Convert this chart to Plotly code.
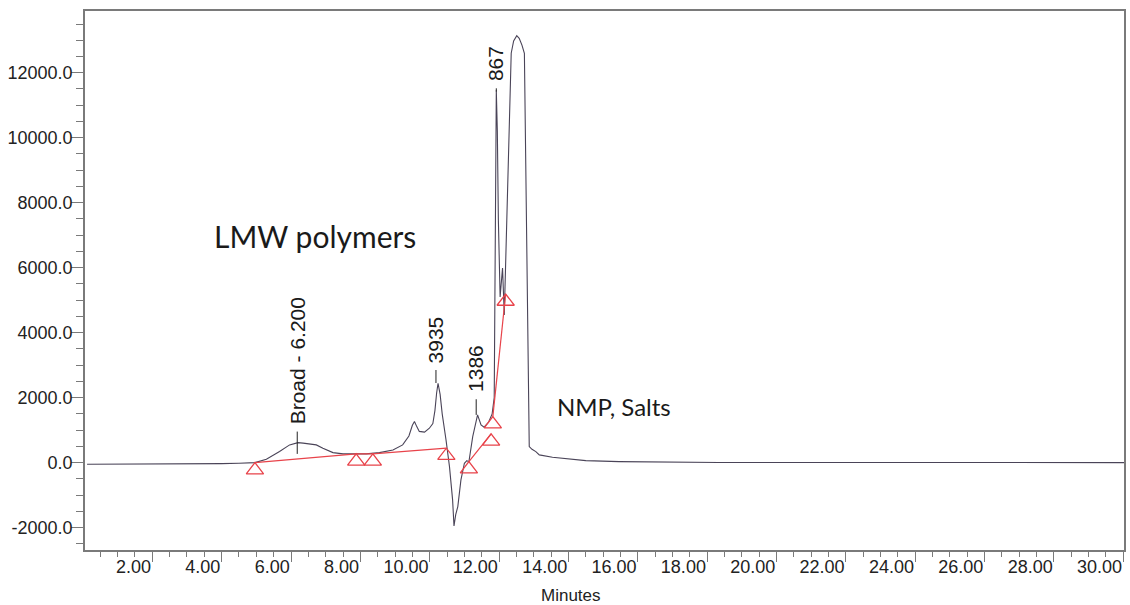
import plotly.graph_objects as go

# ---------------- data ----------------
time_min = [0.12, 1.0, 2.0, 3.0, 4.0, 4.5, 4.96, 5.29, 5.5, 5.67, 5.96, 6.2, 6.35, 6.49, 6.73,
            6.92, 7.21, 7.5, 7.88, 8.17, 8.55, 8.94, 9.22, 9.4, 9.5, 9.56, 9.63, 9.7, 9.85,
            9.99, 10.09, 10.15, 10.2, 10.24, 10.3, 10.36, 10.47, 10.57, 10.66, 10.7, 10.75,
            10.81, 10.9, 11.0, 11.07, 11.13, 11.24, 11.32, 11.38, 11.48, 11.57, 11.7, 11.8,
            11.86, 11.89, 11.92, 11.95, 11.98, 12.03, 12.07, 12.1, 12.15, 12.2, 12.24, 12.35,
            12.42, 12.51, 12.58, 12.66, 12.73, 12.79, 12.84, 12.87, 12.95, 13.06, 13.16,
            13.54, 14.5, 15.46, 18.34, 22.0, 26.0, 30.02]
signal = [-50, -50, -45, -35, -30, -20, 0, 105, 230, 340, 545, 615, 600, 575, 545,
          443, 308, 268, 262, 268, 308, 390, 545, 820, 1150, 1262, 1100, 960, 940,
          1058, 1200, 1600, 2150, 2443, 2100, 1500, 698, -123, -1148, -1950, -1600,
          -1354, -532, -20, 60, 20, 800, 1212, 1468, 1160, 1090, 1250, 1500,
          2000, 7460, 11460, 10200, 7460, 5100, 5500, 5990, 4540, 6500, 7460, 12600,
          12980, 13140, 13060, 12850, 12600, 7460, 2500, 492, 410, 338, 237,
          166, 62, 31, 5, 0, 0, 0]

baseline_t = [4.96, 7.88, 8.36, 10.48, 11.13, 11.77, 11.82, 12.19]
baseline_y = [0, 268, 268, 443, 30, 883, 1415, 5190]
baseline_groups = [[0, 1, 2, 3], [4, 5], [6, 7]]

peak_labels = ["Broad - 6.200", "3935", "1386", "867"]
peak_label_t = [6.18, 10.18, 11.34, 11.92]
peak_tick_low = [268, 2450, 1468, 11420]
peak_tick_high = [955, 2850, 1950, 11520]

region_labels = ["LMW polymers", "NMP, Salts"]
region_t = [6.70, 15.32]
region_y = [6975, 1730]
region_size = [30, 24]

x_range = [0.06, 30.02]
y_range = [-2690, 13900]
x_tick_step = 2
y_tick_vals = [-2000, 0, 2000, 4000, 6000, 8000, 10000, 12000]
y_tick_text = ["-2000.0", "0.0", "2000.0", "4000.0", "6000.0", "8000.0", "10000.0", "12000.0"]
x_title = "Minutes"

# ---------------- layout constants ----------------
W, H = 1130, 605
M = dict(l=85, r=4, t=11, b=55)
plot_h = H - M["t"] - M["b"]
plot_w = W - M["l"] - M["r"]
units_per_px = (y_range[1] - y_range[0]) / plot_h
tri_size = 15
tri_offset = tri_size / 2 * units_per_px

curve_color = "#4a4458"
red = "#e8434a"
axis_color = "#7a7a7a"
font_family = "Liberation Sans, Arial, sans-serif"

fig = go.Figure()

fig.add_trace(go.Scatter(x=time_min, y=signal, mode="lines",
                         line=dict(color=curve_color, width=1.1),
                         hoverinfo="skip", showlegend=False))

for grp in baseline_groups:
    fig.add_trace(go.Scatter(x=[baseline_t[i] for i in grp],
                             y=[baseline_y[i] for i in grp],
                             mode="lines", line=dict(color=red, width=1.2),
                             hoverinfo="skip", showlegend=False))

fig.add_trace(go.Scatter(x=baseline_t, y=[v - tri_offset for v in baseline_y],
                         mode="markers",
                         marker=dict(symbol="triangle-up-open", size=tri_size,
                                     color=red, line=dict(color=red, width=1.3)),
                         hoverinfo="skip", showlegend=False))

for lab, t, lo, hi in zip(peak_labels, peak_label_t, peak_tick_low, peak_tick_high):
    fig.add_shape(type="line", x0=t, x1=t, y0=lo, y1=hi, xref="x", yref="y",
                  line=dict(color="#222222", width=1))
    fig.add_annotation(x=t, y=hi, xref="x", yref="y", text=lab, textangle=-90,
                       showarrow=False, xanchor="center", yanchor="bottom", yshift=5,
                       font=dict(family=font_family, size=21, color="#1a1a1a"))

for lab, t, v, s in zip(region_labels, region_t, region_y, region_size):
    fig.add_annotation(x=t, y=v, xref="x", yref="y", text=lab, showarrow=False,
                       xanchor="center", yanchor="middle",
                       font=dict(family="Lato, Open Sans, sans-serif", size=s, color="#1a1a1a"))

# x-axis title (sits left of the plot centre in the reference)
fig.add_annotation(x=(572 - M["l"]) / plot_w, y=-(595 - (H - M["b"])) / plot_h,
                   xref="paper", yref="paper", text=x_title, showarrow=False,
                   xanchor="center", yanchor="middle",
                   font=dict(family=font_family, size=17, color="#222222"))

fig.update_layout(
    width=W, height=H, margin=M,
    paper_bgcolor="white", plot_bgcolor="white",
    font=dict(family=font_family, size=18, color="#222222"),
    xaxis=dict(range=x_range, showgrid=False, zeroline=False,
               showline=True, linecolor=axis_color, linewidth=1.5, mirror=True,
               ticks="outside", ticklen=10, tickcolor=axis_color, tickwidth=1,
               tick0=0, dtick=x_tick_step, tickformat=".2f",
               ticklabelposition="outside left",
               minor=dict(dtick=0.5, tick0=0, ticks="outside", ticklen=5, tickcolor=axis_color)),
    yaxis=dict(range=y_range, showgrid=False, zeroline=False,
               showline=True, linecolor=axis_color, linewidth=1.5, mirror=True,
               ticks="outside", ticklen=12, tickcolor=axis_color, tickwidth=1,
               tickmode="array", tickvals=y_tick_vals, ticktext=y_tick_text,
               ticklabelposition="outside", ticklabelstandoff=-5,
               minor=dict(dtick=500, tick0=0, ticks="outside", ticklen=7, tickcolor=axis_color)),
)

fig.write_html("out.html")
